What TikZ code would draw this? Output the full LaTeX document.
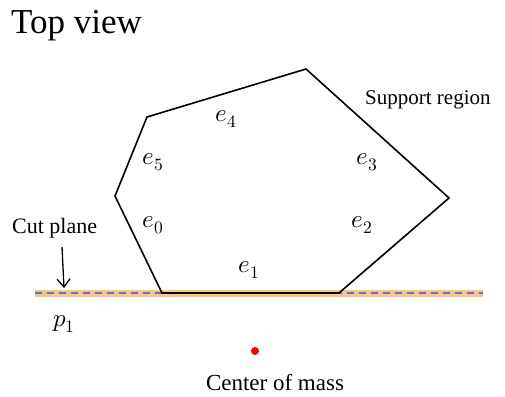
\documentclass[tikz,border=0pt]{standalone}
\usepackage{fontspec}
\usepackage{unicode-math}
\setmainfont{Liberation Serif}
\setmathfont{Latin Modern Math}
\usetikzlibrary{arrows.meta}
\begin{document}
\begin{tikzpicture}[x=1pt,y=-1pt,
  lbl/.style={font=\fontsize{22}{24}\selectfont, inner sep=0pt},
  edgelbl/.style={font=\fontsize{25}{27}\selectfont, inner sep=0pt},
  poly/.style={line width=1.6pt, line join=miter}]
\useasboundingbox (0,0) rectangle (505,396);
\coordinate (A) at (162,293);
\coordinate (B) at (339,293);
\coordinate (C) at (449,198);
\coordinate (D) at (306,69);
\coordinate (E) at (147,117);
\coordinate (F) at (115,196);
\coordinate (L0) at (35,293);
\coordinate (L1) at (483,293);
\draw[line width=7pt, draw={rgb,255:red,248;green,196;blue,140}] (L0) -- (L1);
\draw[line width=1.3pt, draw={rgb,255:red,90;green,120;blue,180}, dash pattern=on 7pt off 5pt] (L0) -- (L1);
\draw[poly] (A) -- (B) -- (C) -- (D) -- (E) -- (F) -- cycle;
\node[anchor=base west, font=\fontsize{35}{38}\selectfont, inner sep=0pt] (title) at (11,34) {Top view};
\node[font=\fontsize{21}{23}\selectfont, inner sep=0pt, anchor=west] (sr) at (365,100) {Support region};
\node[lbl, anchor=west] (cp) at (12,228) {Cut plane};
\coordinate (arrtop) at (62,247);
\coordinate (arrbot) at (64,288);
\draw[line width=1.3pt, -{Straight Barb[length=8pt,width=13pt]}] (arrtop) -- (arrbot);
\node[edgelbl] (e5) at (153,162) {$e_5$};
\node[edgelbl] (e4) at (226,119) {$e_4$};
\node[edgelbl] (e3) at (367,162) {$e_3$};
\node[edgelbl] (e0) at (153,225) {$e_0$};
\node[edgelbl] (e2) at (362,225) {$e_2$};
\node[edgelbl] (e1) at (249,270) {$e_1$};
\node[edgelbl] (p1) at (64,324) {$p_1$};
\node[circle, fill=red, inner sep=0pt, minimum size=8pt] (cm) at (255,351) {};
\node[font=\fontsize{23}{25}\selectfont, inner sep=0pt] (cml) at (275,383) {Center of mass};
\end{tikzpicture}
\end{document}
